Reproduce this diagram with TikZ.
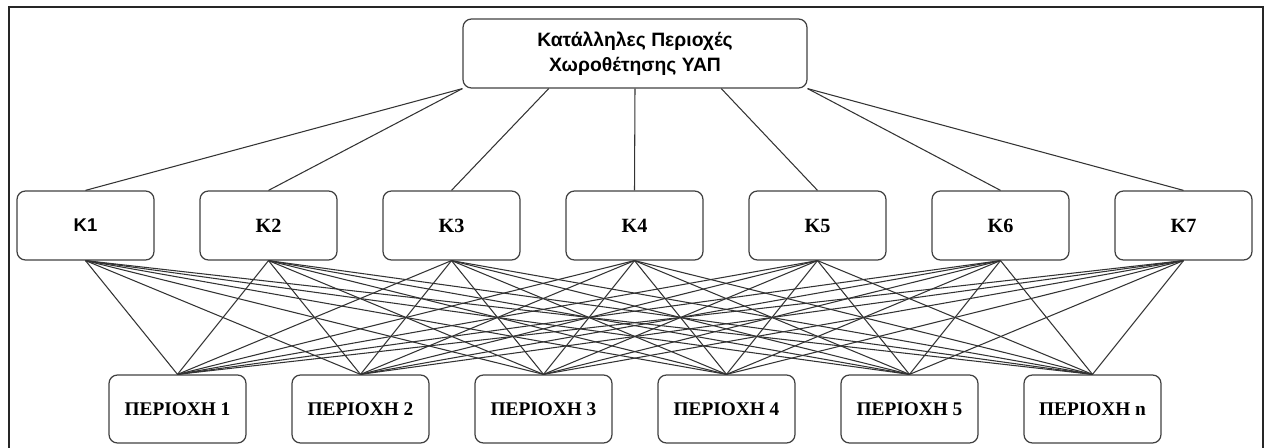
\documentclass[tikz,border=0pt]{standalone}
\usepackage{fontspec}
\setmainfont{Liberation Serif}
\setsansfont{Liberation Sans}
\usepackage{tikz}
\usetikzlibrary{calc, positioning}

\begin{document}
\begin{tikzpicture}[
    box/.style = {draw=black!75, line width=0.7pt, rounded corners=0.17cm,
                  minimum width=2.74cm, minimum height=1.38cm, align=center},
    rootbox/.style = {box, minimum width=6.88cm, font=\sffamily\bfseries\fontsize{11}{14.2}\selectfont},
    kbox/.style = {box, font=\bfseries\fontsize{11.5}{13}\selectfont},
    pbox/.style = {box, minimum height=1.36cm, font=\bfseries\fontsize{11}{13}\selectfont},
    link/.style = {draw=black!80, line width=0.6pt}
]
    \useasboundingbox (0,0) rectangle (25.3,-8.96);
    \draw [line width=1.6pt, black!85] (0.18,-0.14) rectangle (25.26,-9.1);

    \node (root) [rootbox] at (12.70,-1.07) {Κατάλληλες Περιοχές\\Χωροθέτησης ΥΑΠ};

    \node (k1) [kbox, font=\sffamily\bfseries\fontsize{10.5}{13}\selectfont] at (1.71,-4.51) {K1};
    \node (k2) [kbox] at (5.37,-4.51) {K2};
    \node (k3) [kbox] at (9.03,-4.51) {K3};
    \node (k4) [kbox] at (12.69,-4.51) {K4};
    \node (k5) [kbox] at (16.35,-4.51) {K5};
    \node (k6) [kbox] at (20.01,-4.51) {K6};
    \node (k7) [kbox] at (23.67,-4.51) {K7};

    \node (p1) [pbox] at (3.55,-8.18) {ΠΕΡΙΟΧΗ 1};
    \node (p2) [pbox] at (7.21,-8.18) {ΠΕΡΙΟΧΗ 2};
    \node (p3) [pbox] at (10.87,-8.18) {ΠΕΡΙΟΧΗ 3};
    \node (p4) [pbox] at (14.53,-8.18) {ΠΕΡΙΟΧΗ 4};
    \node (p5) [pbox] at (18.19,-8.18) {ΠΕΡΙΟΧΗ 5};
    \node (pn) [pbox] at (21.85,-8.18) {ΠΕΡΙΟΧΗ n};

    \coordinate (r3) at ($(root.south west)!0.25!(root.south east)$);
    \coordinate (r5) at ($(root.south west)!0.75!(root.south east)$);

\path [link]
    (root.south west) edge (k1.north)
    (root.south west) edge (k2.north)
    (r3)              edge (k3.north)
    (root.south)      edge (k4.north)
    (r5)              edge (k5.north)
    (root.south east) edge (k6.north)
    (root.south east) edge (k7.north);

    % every criterion to every area
    \foreach \k in {k1,k2,k3,k4,k5,k6,k7}
        \foreach \p in {p1,p2,p3,p4,p5,pn}
            \path [link] (\k.south) -- (\p.north);

\end{tikzpicture}
\end{document}
